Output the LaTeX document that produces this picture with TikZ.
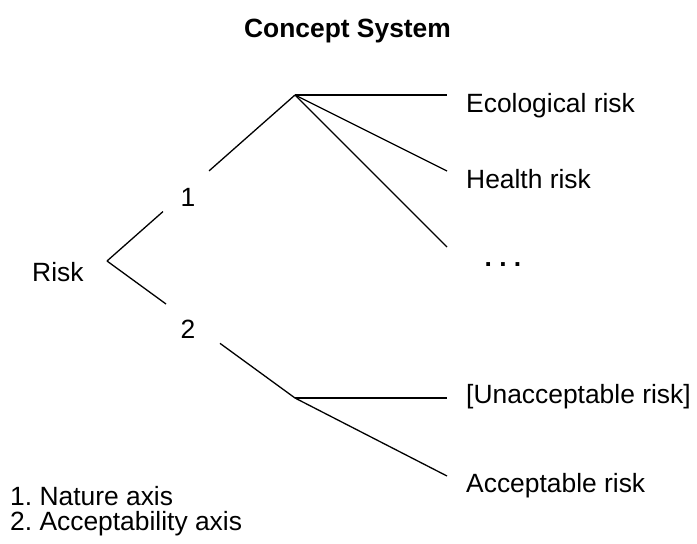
\documentclass[tikz,border=0pt]{standalone}
\usepackage{fontspec}
\setmainfont{Liberation Sans}
\usetikzlibrary{calc}
\frenchspacing

\begin{document}
\begin{tikzpicture}[x=1pt, y=-1pt, every node/.style={font=\fontsize{26.4}{28}\selectfont, inner sep=0pt}]
  \useasboundingbox (0,0) rectangle (697,544);
  \tikzset{branch/.style={line width=1.3pt}, leaf/.style={anchor=base west}}
  % title
  \node[font=\fontsize{26.4}{28}\selectfont\bfseries, anchor=base] (title) at (347.5,37) {Concept System};
  % root and the two axes
  \node[anchor=base west] (risk) at (32,281) {Risk};
  \coordinate (R) at (107,261);
  \coordinate (N1) at (295,95);
  \coordinate (N2) at (295,398);
  \path (R) -- (N1) coordinate[pos=0.298] (a1) coordinate[pos=0.543] (b1);
  \path (R) -- (N2) coordinate[pos=0.314] (a2) coordinate[pos=0.601] (b2);
  \draw[branch] (R) -- (a1) (b1) -- (N1);
  \draw[branch] (R) -- (a2) (b2) -- (N2);
  \node (one) at (188,197) {1};
  \node (two) at (188,329) {2};
  % leaves
  \coordinate (E1) at (447,95);
  \coordinate (E2) at (447,171);
  \coordinate (E3) at (447,247);
  \coordinate (E4) at (447,398);
  \coordinate (E5) at (447,476);
  \foreach \e in {E1,E2,E3} { \draw[branch] (N1) -- (\e); }
  \foreach \e in {E4,E5} { \draw[branch] (N2) -- (\e); }
  \node[leaf] (eco) at (466,112) {Ecological risk};
  \node[leaf] (health) at (466,188) {Health risk};
  \node[font=\fontsize{26.4}{28}\selectfont\bfseries, anchor=base] (dots) at (503,266) {.\ .\ .};
  \node[leaf] (unacc) at (466,403) {[Unacceptable risk]};
  \node[leaf] (acc) at (466,492) {Acceptable risk};
  % legend
  \node[leaf] (leg1) at (10,505) {1. Nature axis};
  \node[leaf] (leg2) at (10,530) {2. Acceptability axis};
\end{tikzpicture}
\end{document}
